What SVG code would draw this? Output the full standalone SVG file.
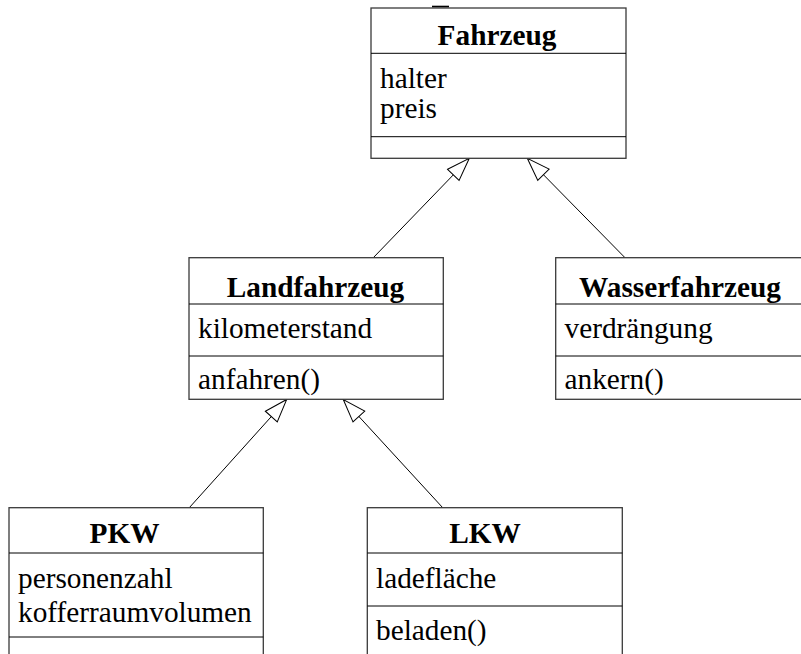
<svg xmlns="http://www.w3.org/2000/svg" width="801" height="654" viewBox="0 0 801 654">
  <defs>
    <style>
      .box { fill: #fff; stroke: #3a3a3a; stroke-width: 1.3; }
      .sep { stroke: #000; stroke-width: 1; }
      .name { font-family: "Liberation Serif", "Times New Roman", serif; font-size: 29.3px; font-weight: bold; text-anchor: middle; fill: #000; }
      .item { font-family: "Liberation Serif", "Times New Roman", serif; font-size: 29.3px; fill: #000; }
      .edge { stroke: #000; stroke-width: 1; fill: none; marker-end: url(#gen); }
    </style>
    <!-- hollow triangle for generalization -->
    <marker id="gen" viewBox="0 0 26 20" refX="24" refY="10" markerWidth="26" markerHeight="20" markerUnits="userSpaceOnUse" orient="auto">
      <path d="M1,2 L24,10 L1,18 Z" fill="#fff" stroke="#000" stroke-width="1"/>
    </marker>
  </defs>

  <g id="connectors">
    <line class="edge" x1="373.3" y1="257.7" x2="469.3" y2="158.3"/>
    <line class="edge" x1="625" y1="257.7" x2="527.3" y2="158.3"/>
    <line class="edge" x1="189.3" y1="507.7" x2="286.7" y2="399.5"/>
    <line class="edge" x1="442.7" y1="507.7" x2="343.3" y2="399.5"/>
  </g>

  <g id="Fahrzeug">
    <rect class="box" x="371" y="8" width="255" height="150.3"/>
    <line x1="432" y1="6.5" x2="449" y2="6.5" stroke="#000" stroke-width="1.6"/>
    <line class="sep" x1="371" y1="53.3" x2="626" y2="53.3"/>
    <line class="sep" x1="371" y1="136.7" x2="626" y2="136.7"/>
    <text class="name" x="497" y="45">Fahrzeug</text>
    <text class="item" x="380" y="88">halter</text>
    <text class="item" x="380" y="118">preis</text>
  </g>

  <g id="Landfahrzeug">
    <rect class="box" x="189" y="257.7" width="254.3" height="141.6"/>
    <line class="sep" x1="189" y1="304" x2="443.3" y2="304"/>
    <line class="sep" x1="189" y1="356" x2="443.3" y2="356"/>
    <text class="name" x="315.5" y="296.7">Landfahrzeug</text>
    <text class="item" x="198" y="338.3">kilometerstand</text>
    <text class="item" x="198" y="388.5">anfahren()</text>
  </g>

  <g id="Wasserfahrzeug">
    <rect class="box" x="555.7" y="257.7" width="254" height="141.6"/>
    <line class="sep" x1="555.7" y1="304" x2="809.7" y2="304"/>
    <line class="sep" x1="555.7" y1="356" x2="809.7" y2="356"/>
    <text class="name" x="680" y="296.7">Wasserfahrzeug</text>
    <text class="item" x="564.5" y="338.3">verdrängung</text>
    <text class="item" x="564.5" y="388.5">ankern()</text>
  </g>

  <g id="PKW">
    <rect class="box" x="9" y="507.7" width="254.3" height="160"/>
    <line class="sep" x1="9" y1="553" x2="263.3" y2="553"/>
    <line class="sep" x1="9" y1="637" x2="263.3" y2="637"/>
    <text class="name" x="124.5" y="543.3">PKW</text>
    <text class="item" x="18" y="588.3">personenzahl</text>
    <text class="item" x="18" y="621.7">kofferraumvolumen</text>
  </g>

  <g id="LKW">
    <rect class="box" x="367.3" y="507.7" width="255" height="160"/>
    <line class="sep" x1="367.3" y1="553" x2="622.3" y2="553"/>
    <line class="sep" x1="367.3" y1="606" x2="622.3" y2="606"/>
    <text class="name" x="485" y="543.3">LKW</text>
    <text class="item" x="376" y="588.3">ladefläche</text>
    <text class="item" x="376" y="640">beladen()</text>
  </g>
</svg>
